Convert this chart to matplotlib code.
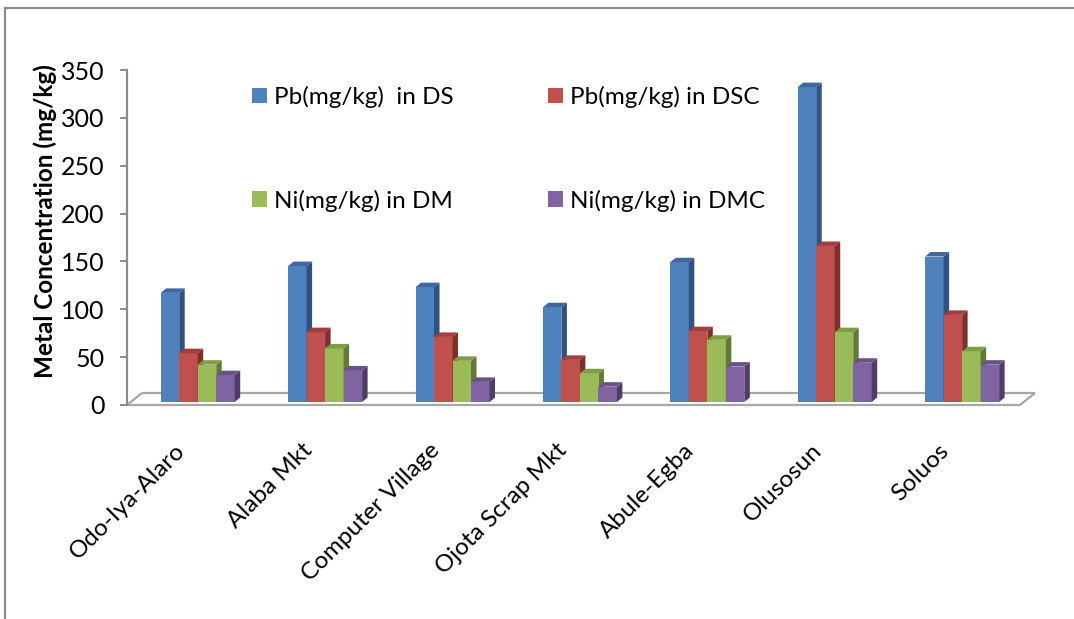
"""Clustered pseudo-3D column chart of Pb and Ni concentrations per site."""

import matplotlib

matplotlib.use("Agg")
import matplotlib.pyplot as plt
from matplotlib.lines import Line2D
from matplotlib.patches import Polygon, Patch

sites = ["Odo-Iya-Alaro", "Alaba Mkt", "Computer Village", "Ojota Scrap Mkt",
         "Abule-Egba", "Olusosun", "Soluos"]
pb_ds = [114, 142, 120, 99, 146, 329, 152]
pb_dsc = [51, 73, 68, 44, 74, 163, 91]
ni_dm = [39, 56, 43, 30, 65, 73, 53]
ni_dmc = [28, 33, 21, 16, 37, 41, 39]

series_labels = ["Pb(mg/kg)  in DS", "Pb(mg/kg) in DSC",
                 "Ni(mg/kg) in DM", "Ni(mg/kg) in DMC"]
front_colors = ["#4F81BD", "#C0504D", "#9BBB59", "#8064A2"]
top_colors = ["#3E69A0", "#A23F3C", "#7F9D45", "#6A5189"]
side_colors = ["#2F5283", "#7F2E2C", "#627A33", "#4F3C68"]

W, H, DPI = 10.74, 6.19, 100
plt.rcParams["font.family"] = ["Lato", "DejaVu Sans"]

fig = plt.figure(figsize=(W, H), dpi=DPI)
# plot area in pixels: x 127..1022, y 70..405
ax = fig.add_axes([127 / 1074, 1 - 405 / 619, 895 / 1074, 335 / 619])
ax.set_xlim(-0.555, 6.47)
ax.set_ylim(0, 350)

px_x = 895 / (6.47 + 0.555)   # pixels per category unit
px_y = 335 / 350              # pixels per value unit

bar_w = 18.5 / px_x
dep_x, dep_y = 5.5 / px_x, 4.5 / px_y
base = 3 / px_y

# floor (parallelogram)
fl_dx, fl_dy = 15 / px_x, 12 / px_y
x0, x1 = -0.555, (1020 - 197.7) / px_x
floor_col = "#A6A6A6"
for xs, ys in [([x0, x1], [0, 0]),
               ([x0 + fl_dx, x1 + fl_dx], [fl_dy, fl_dy]),
               ([x0, x0 + fl_dx], [0, fl_dy]),
               ([x1, x1 + fl_dx], [0, fl_dy])]:
    ax.plot(xs, ys, color=floor_col, lw=1.6, clip_on=False, zorder=1,
            solid_capstyle="butt")

all_series = [pb_ds, pb_dsc, ni_dm, ni_dmc]
for i in range(len(sites)):
    left = i - 2 * bar_w
    for k, vals in enumerate(all_series):
        xl = left + k * bar_w
        xr = xl + bar_w
        v = vals[i] + base
        z = 3 + i * 10 + k * 2
        ax.bar(xl, vals[i], width=bar_w, bottom=base, align="edge",
               color=front_colors[k], edgecolor="none", zorder=z)
        side = Polygon([(xr, base), (xr + dep_x, base + dep_y),
                        (xr + dep_x, v + dep_y), (xr, v)],
                       closed=True, facecolor=side_colors[k],
                       edgecolor="none", zorder=z)
        top = Polygon([(xl, v), (xr, v), (xr + dep_x, v + dep_y),
                       (xl + dep_x, v + dep_y)],
                      closed=True, facecolor=top_colors[k],
                      edgecolor="none", zorder=z)
        ax.add_patch(side)
        ax.add_patch(top)

# axes styling
for s in ["top", "right", "bottom"]:
    ax.spines[s].set_visible(False)
ax.spines["left"].set_color("#8C8C8C")
ax.spines["left"].set_linewidth(1.6)
ax.set_yticks(range(0, 351, 50))
ax.tick_params(axis="y", direction="out", length=5, width=1.4,
               color="#8C8C8C", labelsize=18, pad=11)
ax.set_xticks([i - 0.07 for i in range(len(sites))])
ax.set_xticklabels(sites, rotation=45, ha="right", fontsize=17.5)
ax.tick_params(axis="x", length=0, pad=25)
ax.set_ylabel("Metal Concentration (mg/kg)", fontsize=17.5,
              fontweight="bold")
ax.yaxis.set_label_coords(-0.078, 0.55)
ax.set_facecolor("none")

# legend: row-wise order in two columns
handles = [Patch(facecolor=c, edgecolor="none") for c in front_colors]
order = [0, 2, 1, 3]
ax.legend([handles[j] for j in order], [series_labels[j] for j in order],
          ncol=2, frameon=False, fontsize=17.5, loc="upper left",
          bbox_to_anchor=(252 / 1074, 1 - 86 / 619),
          bbox_transform=fig.transFigure,
          handlelength=0.6, handleheight=0.6, handletextpad=0.3,
          labelspacing=3.35, columnspacing=3.9, borderpad=0, borderaxespad=0)

# chart border (left and top edges visible)
fig.add_artist(Line2D([5 / 1074, 5 / 1074], [0, 1 - 8 / 619],
                      color="#8C8C8C", lw=1.6, transform=fig.transFigure))
fig.add_artist(Line2D([5 / 1074, 1], [1 - 8 / 619, 1 - 8 / 619],
                      color="#8C8C8C", lw=1.6, transform=fig.transFigure))

fig.savefig("out.png", dpi=DPI)
